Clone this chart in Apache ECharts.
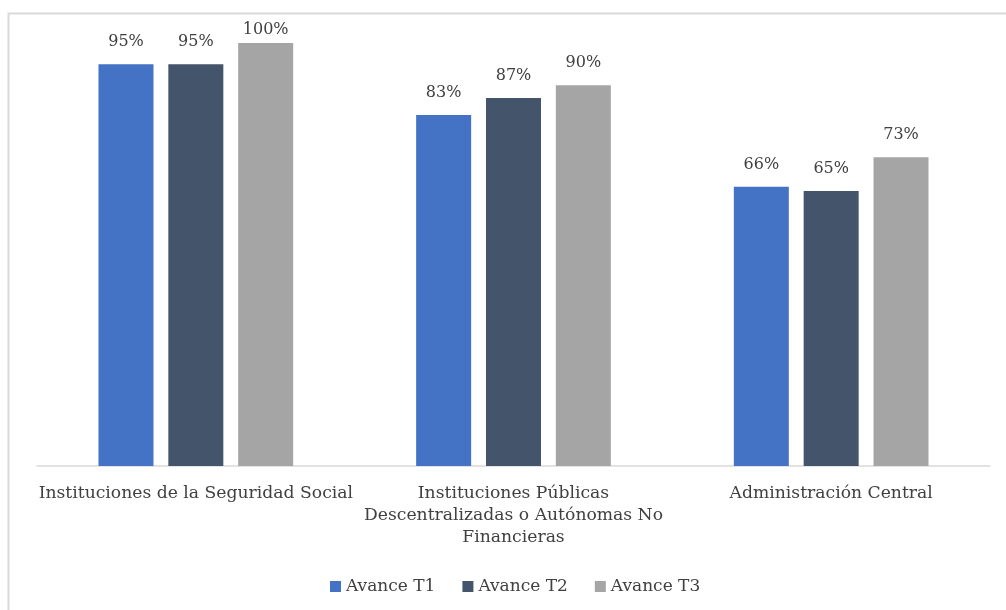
<!DOCTYPE html>
<html>
<head>
<meta charset="utf-8">
<script src="https://cdn.jsdelivr.net/npm/echarts@6/dist/echarts.min.js"></script>
<style>html,body{margin:0;padding:0;background:#fff}#c{width:1006px;height:610px}</style>
</head>
<body>
<div id="c"></div>
<script>
const categories = ['Instituciones de la Seguridad Social', 'Instituciones Públicas\nDescentralizadas o Autónomas No\nFinancieras', 'Administración Central'];
const seriesNames = ['Avance T1', 'Avance T2', 'Avance T3'];
const avanceT1 = [95, 83, 66];
const avanceT2 = [95, 87, 65];
const avanceT3 = [100, 90, 73];
const colors = ['#4472C4', '#44546A', '#A5A5A5'];
const FONT = '"DejaVu Serif", "Liberation Serif", serif';

const chart = echarts.init(document.getElementById('c'), null, {renderer: 'canvas'});
const mk = (name, data, color) => ({
  name, type: 'bar', barWidth: 55, barGap: '27%',
  data: data.map(v => v >= 100 ? {value: v, label: {distance: 5}} : v),
  itemStyle: {color},
  label: {show: true, position: 'top', distance: 14, formatter: '{c}%', color: '#404040', fontFamily: FONT, fontSize: 16}
});
chart.setOption({
  animation: false,
  graphic: [{type: 'rect', shape: {x: 8.5, y: 13.5, width: 1100, height: 700}, style: {fill: 'none', stroke: '#d9d9d9', lineWidth: 2}, silent: true}],
  color: colors,
  grid: {left: 37, right: 16, top: 43, bottom: 144, containLabel: false},
  legend: {
    data: seriesNames, bottom: 10, left: 325, itemWidth: 11, itemHeight: 11, itemGap: 27,
    icon: 'rect', textStyle: {fontFamily: FONT, fontSize: 17, color: '#404040'}
  },
  xAxis: {
    type: 'category', data: categories,
    axisLine: {lineStyle: {color: '#d9d9d9', width: 1.5}},
    axisTick: {show: false},
    axisLabel: {interval: 0, fontFamily: FONT, fontSize: 17.2, color: '#404040', lineHeight: 22, margin: 17}
  },
  yAxis: {type: 'value', min: 0, max: 100, show: false, splitLine: {show: false}},
  series: [mk(seriesNames[0], avanceT1, colors[0]), mk(seriesNames[1], avanceT2, colors[1]), mk(seriesNames[2], avanceT3, colors[2])]
});
</script>
</body>
</html>
